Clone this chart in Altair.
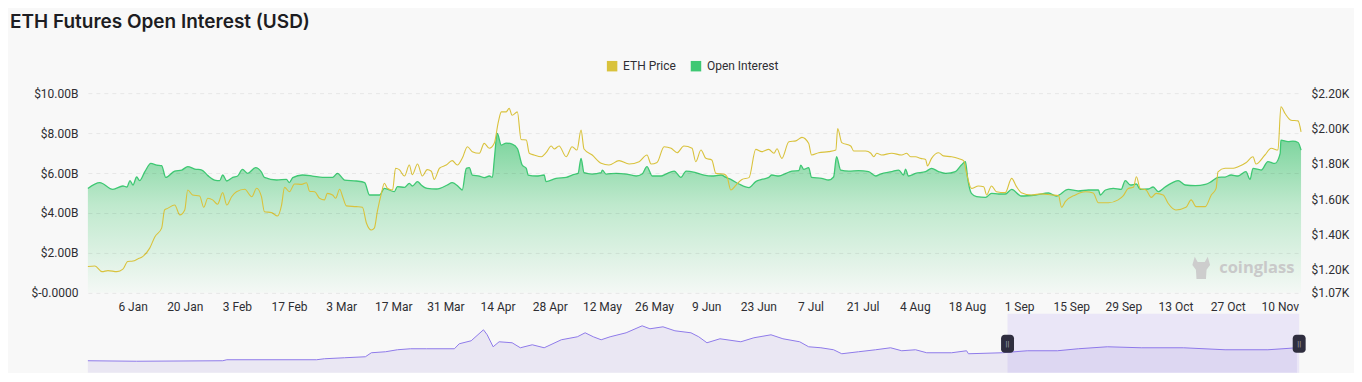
import altair as alt
import pandas as pd

# ---------------- data ----------------
START = pd.Timestamp("2022-12-25")

series_names = ["ETH Price", "Open Interest"]

oi_day = [0, 3.2, 6.7, 9.4, 10.5, 11.3, 12.1, 13.1, 13.9, 15.3,
          16.9, 18.5, 19.8, 20.9, 23.3, 25.2, 26.8, 28.7, 30.6, 32.2,
          34.0, 35.4, 36.2, 37.3, 38.9, 40.2, 41.5, 42.9, 45.0, 46.6,
          47.4, 50.7, 53.3, 54.1, 55.0, 57.6, 60.3, 63.0, 65.7, 67.0,
          68.9, 72.1, 74.3, 75.6, 78.3, 79.6, 82.3, 83.1, 85.0, 86.3,
          87.1, 88.5, 89.5, 91.1, 93.6, 96.5, 97.8, 99.7, 100.5, 101.6,
          102.4, 103.2, 105.1, 106.4, 107.8, 108.6, 109.1, 109.9, 111.0, 112.3,
          113.9, 115.3, 116.6, 117.7, 118.2, 120.4, 122.5, 123.0, 125.7, 128.4,
          130.0, 131.6, 132.4, 133.2, 135.4, 137.8, 138.1, 139.1, 141.8, 144.5,
          147.2, 148.8, 150.1, 151.5, 153.9, 155.2, 157.4, 159.2, 160.6, 163.2,
          165.4, 167.5, 170.0, 171.3, 172.6, 174.8, 177.5, 179.3, 180.9, 182.8,
          183.6, 185.5, 187.4, 189.0, 190.9, 191.4, 192.2, 193.5, 194.3, 197.0,
          198.9, 200.2, 201.0, 202.1, 204.3, 206.9, 209.6, 211.5, 212.8, 215.8,
          217.7, 219.0, 219.5, 220.3, 222.2, 224.9, 226.5, 228.4, 230.3, 232.9,
          234.5, 235.6, 236.2, 237.2, 238.6, 241.0, 242.6, 244.5, 246.3, 248.0,
          250.6, 254.4, 257.9, 260.0, 263.2, 265.9, 268.6, 271.3, 271.8, 273.2,
          275.3, 277.4, 278.5, 279.9, 281.5, 282.5, 284.7, 286.0, 287.4, 289.2,
          290.8, 292.7, 294.6, 297.3, 300.0, 301.6, 303.4, 305.3, 306.9, 308.8,
          310.9, 312.0, 312.8, 315.0, 316.8, 318.7, 320.1, 320.3, 322.2, 323.5,
          324.9, 325.7]

oi_bn = [5.23, 5.52, 5.18, 5.35, 5.30, 5.62, 5.40, 5.80, 5.62, 6.07,
         6.48, 6.40, 6.37, 5.78, 6.10, 6.15, 6.32, 6.20, 6.15, 5.87,
         5.65, 5.62, 5.90, 5.60, 5.78, 5.85, 6.18, 5.98, 6.27, 6.05,
         5.78, 5.65, 5.68, 5.52, 5.77, 5.90, 5.85, 5.78, 5.78, 5.98,
         5.65, 5.60, 5.52, 4.90, 4.90, 5.23, 5.07, 5.32, 5.28, 5.48,
         5.35, 5.57, 5.40, 5.23, 5.20, 5.40, 5.52, 5.28, 5.15, 6.23,
         6.27, 5.90, 5.85, 5.77, 5.85, 5.78, 6.65, 7.98, 7.40, 7.50,
         7.45, 7.23, 6.40, 6.23, 5.90, 5.85, 5.90, 5.57, 5.73, 5.78,
         5.90, 5.98, 6.73, 6.02, 5.95, 6.02, 6.15, 5.95, 5.98, 5.95,
         5.85, 5.95, 6.32, 5.85, 5.85, 5.95, 6.10, 5.78, 6.10, 6.02,
         5.90, 5.85, 5.90, 5.78, 5.68, 5.45, 5.27, 5.57, 5.68, 5.78,
         5.90, 5.85, 5.98, 6.10, 6.12, 6.40, 6.18, 6.27, 5.78, 5.73,
         5.65, 5.80, 6.82, 6.15, 6.10, 6.12, 6.07, 5.85, 5.95, 6.07,
         6.15, 5.90, 6.20, 5.85, 5.98, 6.07, 6.23, 6.07, 5.98, 6.07,
         6.40, 6.57, 5.73, 4.98, 4.82, 4.78, 4.98, 4.95, 4.95, 5.18,
         4.85, 4.90, 5.00, 4.85, 5.18, 5.10, 5.15, 5.15, 4.90, 5.15,
         5.23, 5.18, 5.62, 5.40, 5.45, 5.18, 5.20, 5.30, 5.07, 5.30,
         5.48, 5.62, 5.40, 5.37, 5.43, 5.57, 5.78, 5.80, 5.90, 5.85,
         6.07, 5.68, 6.23, 6.15, 6.57, 6.48, 6.98, 7.65, 7.57, 7.60,
         7.53, 7.15]

price_day = [0, 1.9, 3.8, 5.4, 7.8, 9.4, 10.7, 12.1, 13.4, 14.7,
             16.6, 18.0, 19.8, 20.6, 21.4, 23.3, 24.7, 26.0, 26.8, 28.1,
             30.0, 31.1, 32.2, 33.5, 34.8, 36.2, 37.3, 38.6, 39.9, 42.1,
             44.0, 45.3, 46.6, 47.4, 49.3, 50.9, 52.0, 52.8, 54.1, 55.5,
             57.4, 58.7, 59.5, 60.9, 62.2, 63.5, 64.3, 65.7, 66.5, 67.6,
             68.4, 69.4, 72.1, 73.7, 74.8, 76.1, 76.9, 77.7, 78.8, 79.6,
             80.4, 81.8, 82.6, 83.6, 85.0, 86.3, 87.1, 88.5, 89.8, 91.1,
             92.2, 93.0, 94.4, 96.2, 97.8, 99.2, 100.5, 101.9, 103.2, 105.1,
             106.4, 107.8, 109.1, 110.2, 111.0, 112.3, 113.1, 113.9, 115.3, 116.3,
             117.7, 118.5, 119.8, 121.7, 123.0, 124.4, 125.2, 126.5, 128.4, 130.0,
             131.3, 132.4, 133.2, 135.4, 137.8, 139.9, 142.6, 145.3, 148.0, 150.1,
             151.2, 152.8, 154.7, 156.6, 158.2, 160.0, 162.2, 163.2, 164.6, 165.9,
             167.5, 168.6, 170.8, 171.6, 172.6, 174.0, 175.6, 177.5, 179.3, 180.9,
             182.8, 184.2, 185.0, 186.3, 188.2, 190.1, 191.7, 193.5, 194.3, 196.2,
             198.9, 200.8, 201.3, 202.4, 204.8, 205.6, 208.8, 210.2, 211.0, 211.8,
             213.1, 215.8, 218.5, 219.8, 220.9, 222.2, 223.6, 224.9, 225.4, 226.5,
             228.4, 229.7, 231.9, 233.7, 235.1, 235.9, 237.2, 239.1, 240.5, 241.3,
             242.6, 243.9, 246.3, 248.0, 249.3, 250.6, 253.3, 256.0, 258.7, 260.6,
             261.4, 262.4, 265.1, 267.8, 269.9, 271.3, 274.0, 276.6, 278.0, 279.3,
             280.7, 281.5, 282.5, 284.1, 285.5, 286.8, 288.7, 290.0, 292.1, 294.8,
             296.2, 297.5, 300.0, 301.6, 302.9, 303.4, 305.3, 307.5, 308.8, 310.9,
             312.8, 313.6, 316.0, 317.7, 319.5, 320.3, 321.4, 323.0, 324.9, 325.7]

price_usd = [1219, 1222, 1190, 1196, 1190, 1204, 1247, 1250, 1262, 1275,
             1323, 1388, 1436, 1539, 1548, 1567, 1511, 1539, 1652, 1624,
             1618, 1554, 1605, 1596, 1571, 1637, 1567, 1614, 1642, 1656,
             1614, 1662, 1614, 1529, 1524, 1505, 1567, 1667, 1642, 1686,
             1684, 1693, 1645, 1642, 1605, 1596, 1633, 1624, 1605, 1656,
             1614, 1562, 1558, 1554, 1464, 1426, 1436, 1529, 1633, 1690,
             1662, 1652, 1775, 1767, 1731, 1793, 1739, 1799, 1731, 1767,
             1758, 1712, 1775, 1793, 1818, 1793, 1831, 1897, 1869, 1860,
             1916, 1888, 1916, 2038, 2094, 2094, 2114, 2075, 2094, 1938,
             1935, 1860, 1850, 1840, 1863, 1901, 1884, 1901, 1840, 1897,
             1878, 1991, 1884, 1850, 1803, 1793, 1818, 1799, 1812, 1850,
             1799, 1808, 1897, 1888, 1863, 1901, 1888, 1812, 1878, 1831,
             1822, 1746, 1742, 1727, 1652, 1680, 1712, 1722, 1882, 1869,
             1882, 1860, 1885, 1831, 1925, 1930, 1950, 1916, 1850, 1863,
             1869, 1878, 2000, 1920, 1901, 1873, 1873, 1860, 1840, 1860,
             1850, 1860, 1850, 1860, 1840, 1840, 1831, 1825, 1788, 1831,
             1863, 1845, 1840, 1830, 1818, 1746, 1661, 1675, 1670, 1624,
             1675, 1642, 1637, 1718, 1671, 1637, 1624, 1630, 1624, 1620,
             1554, 1586, 1624, 1642, 1635, 1580, 1580, 1596, 1620, 1661,
             1667, 1727, 1661, 1652, 1610, 1633, 1624, 1577, 1539, 1554,
             1596, 1558, 1558, 1624, 1661, 1755, 1775, 1775, 1784, 1806,
             1840, 1799, 1850, 1888, 1878, 2123, 2085, 2047, 2043, 1981]

# navigator (overview) series, relative units
nav_day = [0, 13.1, 36.2, 37.3, 61.4, 63.5, 68.9, 74.5, 76.1, 79.9,
           83.1, 86.6, 90.9, 98.4, 99.7, 102.9, 106.2, 107.2, 108.8, 110.4,
           113.9, 116.1, 119.3, 122.5, 127.1, 131.4, 133.5, 135.7, 137.8, 140.2,
           144.5, 148.8, 150.9, 154.4, 157.6, 161.9, 164.0, 166.2, 169.7, 175.3,
           178.8, 183.4, 186.6, 191.1, 193.5, 196.8, 200.2, 202.4, 206.9, 211.5,
           215.5, 218.5, 222.2, 225.2, 231.9, 235.9, 236.4, 245.5, 252.2, 260.3,
           265.9, 273.7, 282.8, 294.1, 305.3, 316.8, 324.6]
nav_val = [12, 11.5, 12, 13, 13, 14, 15, 16, 20, 21,
           23, 24, 24, 24, 29, 32, 43, 38, 26, 31,
           30, 25, 28, 25, 33, 36, 40, 36, 33, 36,
           40, 47, 44, 46, 42, 40, 36, 30, 34, 31,
           35, 38, 34, 31, 26, 25, 23, 19, 21, 23,
           25, 22, 23, 20, 20, 22, 19, 20, 22, 22,
           24, 26, 25, 25, 23, 23, 25]
sel_days = [246.9, 325.2]

left_ticks = [0, 2, 4, 6, 8, 10]
right_ticks = [1070, 1200, 1400, 1600, 1800, 2000, 2200]
x_tick_dates = ["2023-01-06", "2023-01-20", "2023-02-03", "2023-02-17", "2023-03-03",
                "2023-03-17", "2023-03-31", "2023-04-14", "2023-04-28", "2023-05-12",
                "2023-05-26", "2023-06-09", "2023-06-23", "2023-07-07", "2023-07-21",
                "2023-08-04", "2023-08-18", "2023-09-01", "2023-09-15", "2023-09-29",
                "2023-10-13", "2023-10-27", "2023-11-10"]


def stamp(days):
    return [(START + pd.Timedelta(days=float(d))).strftime("%Y-%m-%dT%H:%M:%S") for d in days]


def dt(s, hours=0):
    y, m, d = (int(p) for p in s.split("-"))
    return alt.DateTime(year=y, month=m, date=d, hours=hours)


oi_df = pd.DataFrame({"t": stamp(oi_day), "oi": oi_bn})
price_df = pd.DataFrame({"t": stamp(price_day), "price": price_usd})
nav_df = pd.DataFrame({"t": stamp(nav_day), "v": nav_val})
sel_df = pd.DataFrame({"t0": stamp([sel_days[0]]), "t1": stamp([sel_days[1]])})
handle_df = pd.DataFrame({"t": stamp(sel_days)})
legend_df = pd.DataFrame({"series": series_names})
mark_df = pd.DataFrame({"w": ["coinglass"]})

# ---------------- style ----------------
BG = "#f8f8f8"
GREEN = "#3ec873"
YELLOW = "#d9c23c"
FONT = "Roboto"
LABEL = "#2e2e33"

xscale = alt.Scale(domain=[dt("2022-12-25"), dt("2023-11-15", 17)])

x_axis = alt.Axis(values=[dt(s) for s in x_tick_dates], format="%-d %b", labelAngle=0,
                  grid=False, domain=False, ticks=False, labelPadding=9,
                  labelFont=FONT, labelFontSize=12, labelColor=LABEL, labelOverlap=False,
                  labelFlush=False)
left_axis = alt.Axis(values=left_ticks, tickCount=6,
                     labelExpr="datum.value == 0 ? '$-0.0000' : '$' + format(datum.value, '.2f') + 'B'",
                     grid=True, gridDash=[4, 4], gridColor="#000000", gridOpacity=0.075,
                     domain=False, ticks=False, zindex=1,
                     labelPadding=10, labelFont=FONT, labelFontSize=12, labelColor=LABEL,
                     labelOverlap=False, labelBound=False)
right_axis = alt.Axis(orient="right", values=right_ticks,
                      labelExpr="'$' + format(datum.value / 1000, '.2f') + 'K'",
                      grid=False, domain=False, ticks=False, labelPadding=10,
                      labelFont=FONT, labelFontSize=12, labelColor=LABEL, labelOverlap=False)

gradient = alt.Gradient(gradient="linear",
                        stops=[alt.GradientStop(color="#f4f8f5", offset=0),
                               alt.GradientStop(color="#bfe9cd", offset=0.55),
                               alt.GradientStop(color="#78d39a", offset=1)],
                        x1=1, x2=1, y1=1, y2=0)

x_main = alt.X("t:T", scale=xscale, axis=x_axis, title=None)
y_oi = alt.Y("oi:Q", scale=alt.Scale(domain=[0, 10], nice=False), axis=left_axis, title=None)

area = alt.Chart(oi_df).mark_area(interpolate="monotone", color=gradient, opacity=1).encode(
    x=x_main, y=y_oi)
oi_line = alt.Chart(oi_df).mark_line(interpolate="monotone", color=GREEN, strokeWidth=1.3).encode(
    x=x_main, y=y_oi)

legend_layer = alt.Chart(legend_df).mark_square(opacity=0, size=100).encode(
    color=alt.Color("series:N",
                    scale=alt.Scale(domain=series_names, range=[YELLOW, GREEN]),
                    legend=alt.Legend(orient="none", legendX=519, legendY=-33, direction="horizontal",
                                      title=None, symbolType="square", symbolSize=110,
                                      symbolOpacity=1, labelFont=FONT, labelFontSize=12,
                                      labelColor=LABEL, columnPadding=14, labelOffset=5)))

HEAD = ("M-0.55,-0.95 L-0.3,-0.5 L0.3,-0.5 L0.55,-0.95 L0.75,-0.25 L0.45,0.15 "
        "L0.4,0.95 L-0.4,0.95 L-0.45,0.15 L-0.75,-0.25 Z")
logo = alt.Chart(mark_df).mark_point(shape=HEAD, size=560, filled=True, color="#cdcdcd", opacity=1).encode(
    x=alt.value(1115), y=alt.value(175))
watermark = alt.Chart(mark_df).mark_text(font="Open Sans", fontSize=16.5, fontWeight="bold",
                                         color="#c9c9c9", align="left", baseline="middle").encode(
    text="w:N", x=alt.value(1133), y=alt.value(175))

oi_group = alt.layer(area, oi_line, legend_layer, logo, watermark)

price_line = alt.Chart(price_df).mark_line(interpolate="monotone", color=YELLOW, strokeWidth=1.1).encode(
    x="t:T",
    y=alt.Y("price:Q", scale=alt.Scale(domain=[1070, 2200], nice=False, zero=False),
            axis=right_axis, title=None),
)

main = alt.layer(oi_group, price_line).resolve_scale(y="independent").properties(width=1215, height=200)

# navigator
nav_x = alt.X("t:T", scale=xscale, axis=None)
nav_area = alt.Chart(nav_df).mark_area(color="#e4e0f1", line={"color": "#8f7aea", "strokeWidth": 1}).encode(
    x=nav_x, y=alt.Y("v:Q", scale=alt.Scale(domain=[0, 59], nice=False), axis=None))
sel = alt.Chart(sel_df).mark_rect(color="#8a6cf0", opacity=0.13).encode(x="t0:T", x2="t1:T")
HANDLE = ("M-0.72,-0.6 A0.4,0.4 0 0 1 -0.32,-1 L0.32,-1 A0.4,0.4 0 0 1 0.72,-0.6 "
          "L0.72,0.6 A0.4,0.4 0 0 1 0.32,1 L-0.32,1 A0.4,0.4 0 0 1 -0.72,0.6 Z")
handles = alt.Chart(handle_df).mark_point(shape=HANDLE, size=324, filled=True, color="#2f2e3f",
                                          opacity=1).encode(x="t:T", y=alt.value(30))
grips = alt.Chart(handle_df).mark_text(text="||", fontSize=8, color="#a9a9b6", font=FONT).encode(
    x="t:T", y=alt.value(30))
nav = alt.layer(nav_area, sel, handles, grips).properties(width=1215, height=59)

chart = alt.vconcat(main, nav, spacing=1).properties(
    title=alt.TitleParams("ETH Futures Open Interest (USD)", anchor="start", font="Inter",
                          fontSize=19, fontWeight=600, color="#1d1d22", dx=-21, offset=28),
    background=BG,
    padding={"left": 2, "top": 5, "right": 5, "bottom": 0},
).configure_view(strokeWidth=0)

chart.save("out.html", embed_options={"renderer": "svg", "actions": False})
